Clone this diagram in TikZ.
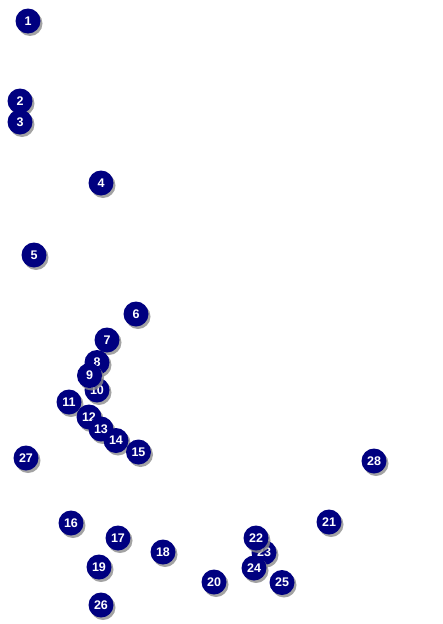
\documentclass[tikz,border=0pt]{standalone}
\usepackage{fontspec}
\setmainfont{Liberation Sans}
\definecolor{navyc}{RGB}{0,0,128}
\usetikzlibrary{shadows}
\tikzset{
  marker/.style={circle, fill=navyc, minimum size=25pt, inner sep=0pt,
    text=white, font=\fontsize{12.5}{12.5}\selectfont\bfseries,
    drop shadow={shadow xshift=2pt, shadow yshift=-2.5pt, fill=black!45, opacity=0.8}}
}
\begin{document}
\begin{tikzpicture}[x=1pt,y=-1pt]
\useasboundingbox (0,0) rectangle (442,624);
\node[marker] (n23) at (264,552.5) {23};
\node[marker] (n1) at (28,21) {1};
\node[marker] (n2) at (20,101) {2};
\node[marker] (n3) at (20,122) {3};
\node[marker] (n4) at (101,183) {4};
\node[marker] (n5) at (34,255) {5};
\node[marker] (n6) at (136,314) {6};
\node[marker] (n7) at (107,340) {7};
\node[marker] (n8) at (97,362.5) {8};
\node[marker] (n10) at (97,390) {10};
\node[marker] (n9) at (89.5,375.5) {9};
\node[marker] (n11) at (69,402) {11};
\node[marker] (n12) at (89,417) {12};
\node[marker] (n13) at (101,429) {13};
\node[marker] (n14) at (116,440.5) {14};
\node[marker] (n15) at (138.5,452) {15};
\node[marker] (n16) at (71,523) {16};
\node[marker] (n17) at (118,538) {17};
\node[marker] (n18) at (163,552) {18};
\node[marker] (n19) at (99,567) {19};
\node[marker] (n20) at (214,582) {20};
\node[marker] (n21) at (329,522) {21};
\node[marker] (n22) at (256,538) {22};
\node[marker] (n24) at (254,568) {24};
\node[marker] (n25) at (282,582.5) {25};
\node[marker] (n26) at (101,605) {26};
\node[marker] (n27) at (26,458) {27};
\node[marker] (n28) at (374,461) {28};
\end{tikzpicture}
\end{document}
